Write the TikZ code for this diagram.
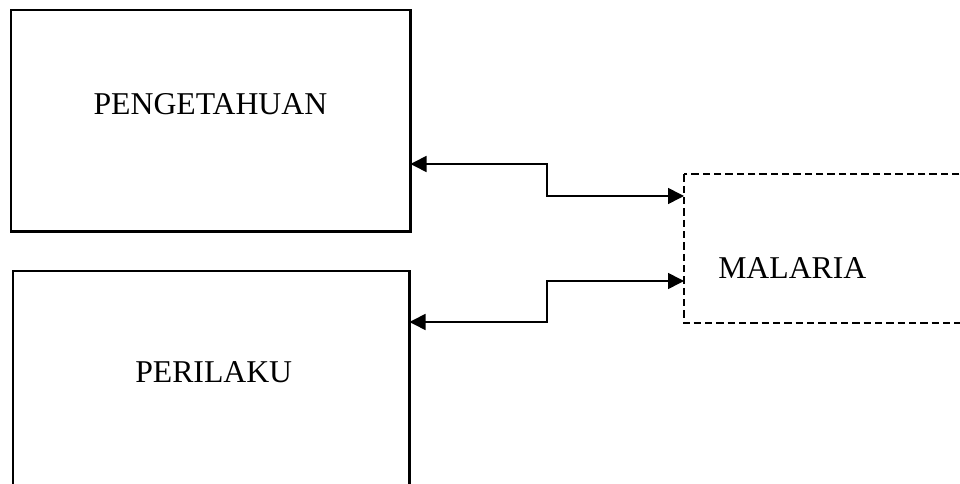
\documentclass[tikz,border=0pt]{standalone}
\usepackage{fontspec}
\setmainfont{Liberation Serif}
\usetikzlibrary{arrows.meta}
\begin{document}
\begin{tikzpicture}[x=0.75pt,y=-0.75pt,
  solidbox/.style={draw=black,line width=1.8pt,fill=none},
  dashbox/.style={draw=black,line width=1.5pt,dash pattern=on 5.5pt off 3pt},
  lbl/.style={anchor=base west,inner sep=0pt,font=\fontsize{23.8}{28}\selectfont},
  conn/.style={draw=black,line width=1.2pt,{Triangle[length=12pt,width=12pt]}-{Triangle[length=12pt,width=12pt]}}
]
\useasboundingbox (0,0) rectangle (960,484);
\clip (0,0) rectangle (960,484);
% boxes
\draw[solidbox] (11,10) rectangle (410.5,231.5);
\coordinate (b1e) at (410.5,164);
\draw[solidbox] (13,271) rectangle (409.5,495);
\coordinate (b2e) at (409.5,322);
\draw[dashbox] (684,174.5) rectangle (990,323.5);
\coordinate (m1) at (684,196);
\coordinate (m2) at (684,281);
% labels
\node[lbl] (t1) at (93.3,115) {PENGETAHUAN};
\node[lbl] (t2) at (135,382.7) {PERILAKU};
\node[lbl] (t3) at (718,278.3) {MALARIA};
% connectors
\coordinate (k1) at (547,164);
\coordinate (k2) at (547,322);
\draw[conn] (b1e) -- (k1) |- (m1);
\draw[conn] (b2e) -- (k2) |- (m2);
\end{tikzpicture}
\end{document}
